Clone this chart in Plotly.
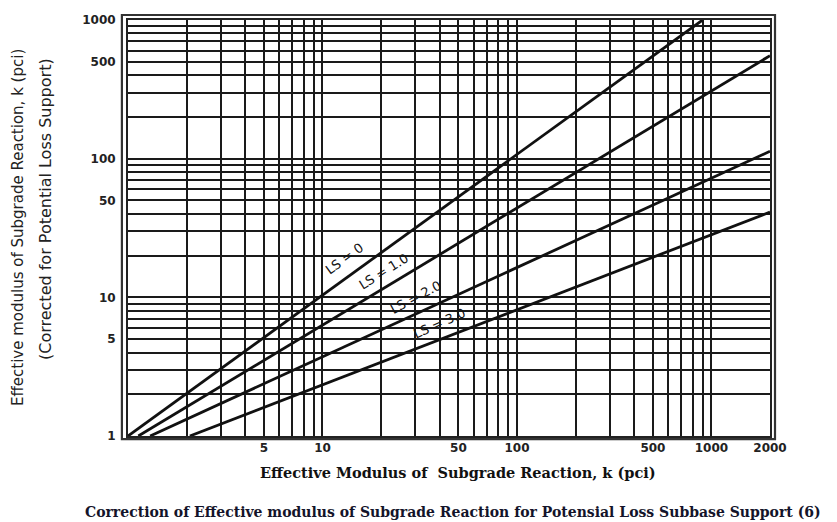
import math
import plotly.graph_objects as go

# ---- data ----
LS_NAMES = ["LS = 0", "LS = 1.0", "LS = 2.0", "LS = 3.0"]
LS_K_IN = [[1.0, 900.0], [1.13, 2000.0], [1.30, 2000.0], [2.08, 2000.0]]   # effective modulus k (x)
LS_K_OUT = [[1.0, 1000.0], [1.0, 553.0], [1.0, 113.0], [1.0, 41.2]]         # corrected k (y)

LABEL_X = [13.0, 20.6, 30.0, 39.8]
LABEL_Y = [19.0, 15.4, 10.0, 6.45]
LABEL_ANGLE = [-36, -32, -28, -24]

X_TICK_VALUES = [5, 10, 50, 100, 500, 1000, 2000]
X_TICK_LABELS = ["5", "10", "50", "100", "500", "1000", "2000"]
Y_TICK_VALUES = [1, 5, 10, 50, 100, 500, 1000]
Y_TICK_LABELS = ["1", "5", "10", "50", "100", "500", "1000"]

X_GRID = [m * 10 ** e for e in range(0, 3) for m in range(1, 10)] + [1000, 2000]
Y_GRID = [m * 10 ** e for e in range(0, 3) for m in range(1, 10)] + [1000]

X_TITLE = "Effective Modulus of  Subgrade Reaction, k (pci)"
Y_TITLE_1 = "Effective modulus of Subgrade Reaction, k (pci)"
Y_TITLE_2 = "(Corrected for Potential Loss Support)"
CAPTION = "Correction of Effective modulus of Subgrade Reaction for Potensial Loss Subbase Support (6)"


def ticktext(grid, vals, labels):
    lut = dict(zip(vals, labels))
    return [lut.get(g, "") for g in grid]


fig = go.Figure()
for name, xs, ys in zip(LS_NAMES, LS_K_IN, LS_K_OUT):
    fig.add_trace(go.Scatter(x=xs, y=ys, mode="lines", name=name,
                             line=dict(color="#111111", width=2.8), showlegend=False,
                             hoverinfo="skip"))

annotations = []
for name, lx, ly, ang in zip(LS_NAMES, LABEL_X, LABEL_Y, LABEL_ANGLE):
    annotations.append(dict(x=math.log10(lx), y=math.log10(ly),
                            xref="x", yref="y", text=name, showarrow=False,
                            xanchor="center", yanchor="middle",
                            textangle=ang, font=dict(family="DejaVu Sans", size=13, color="#111")))

annotations += [
    dict(x=0, y=0.5, xref="paper", yref="paper", text=Y_TITLE_1, textangle=-90,
         showarrow=False, xanchor="center", yanchor="middle", xshift=-110,
         font=dict(family="DejaVu Sans", size=15, color="#222")),
    dict(x=0, y=0.5, xref="paper", yref="paper", text=Y_TITLE_2, textangle=-90,
         showarrow=False, xanchor="center", yanchor="middle", xshift=-83, yshift=19,
         font=dict(family="DejaVu Sans", size=16, color="#222")),
    dict(x=0.5, y=0, xref="paper", yref="paper", text="<b>" + X_TITLE + "</b>",
         showarrow=False, xanchor="center", yanchor="middle", xshift=9, yshift=-36,
         font=dict(family="DejaVu Serif", size=14.5, color="#111")),
    dict(x=0.5, y=0, xref="paper", yref="paper", text="<b>" + CAPTION + "</b>",
         showarrow=False, xanchor="center", yanchor="middle", xshift=4, yshift=-76,
         font=dict(family="DejaVu Serif", size=14, color="#14142a")),
]

# page body has an 8px default margin, so the figure is 8px smaller and margins shifted
fig.update_layout(
    width=829, height=514,
    margin=dict(l=120, r=67, t=5, b=86),
    paper_bgcolor="white", plot_bgcolor="white",
    annotations=annotations,
    shapes=[dict(type="rect", xref="paper", yref="paper",
                 x0=-0.0095, x1=1.0078, y0=-0.0075, y1=1.012,
                 line=dict(color="#333", width=2.2))],
)

fig.update_xaxes(type="log", range=[0, 3.30103], tickvals=X_GRID,
                 ticktext=ticktext(X_GRID, X_TICK_VALUES, X_TICK_LABELS),
                 showgrid=True, gridcolor="#1a1a1a", gridwidth=1.6,
                 showline=True, mirror=True, linecolor="#222", linewidth=2,
                 ticks="", zeroline=False,
                 tickfont=dict(family="DejaVu Sans", size=12, color="#222", weight="bold"))
fig.update_yaxes(type="log", range=[0, 3], tickvals=Y_GRID,
                 ticktext=ticktext(Y_GRID, Y_TICK_VALUES, Y_TICK_LABELS),
                 showgrid=True, gridcolor="#1a1a1a", gridwidth=1.6,
                 showline=True, mirror=True, linecolor="#222", linewidth=2,
                 ticks="", zeroline=False, ticklabelstandoff=8,
                 tickfont=dict(family="DejaVu Sans", size=12, color="#222", weight="bold"))

fig.write_html("out.html")
